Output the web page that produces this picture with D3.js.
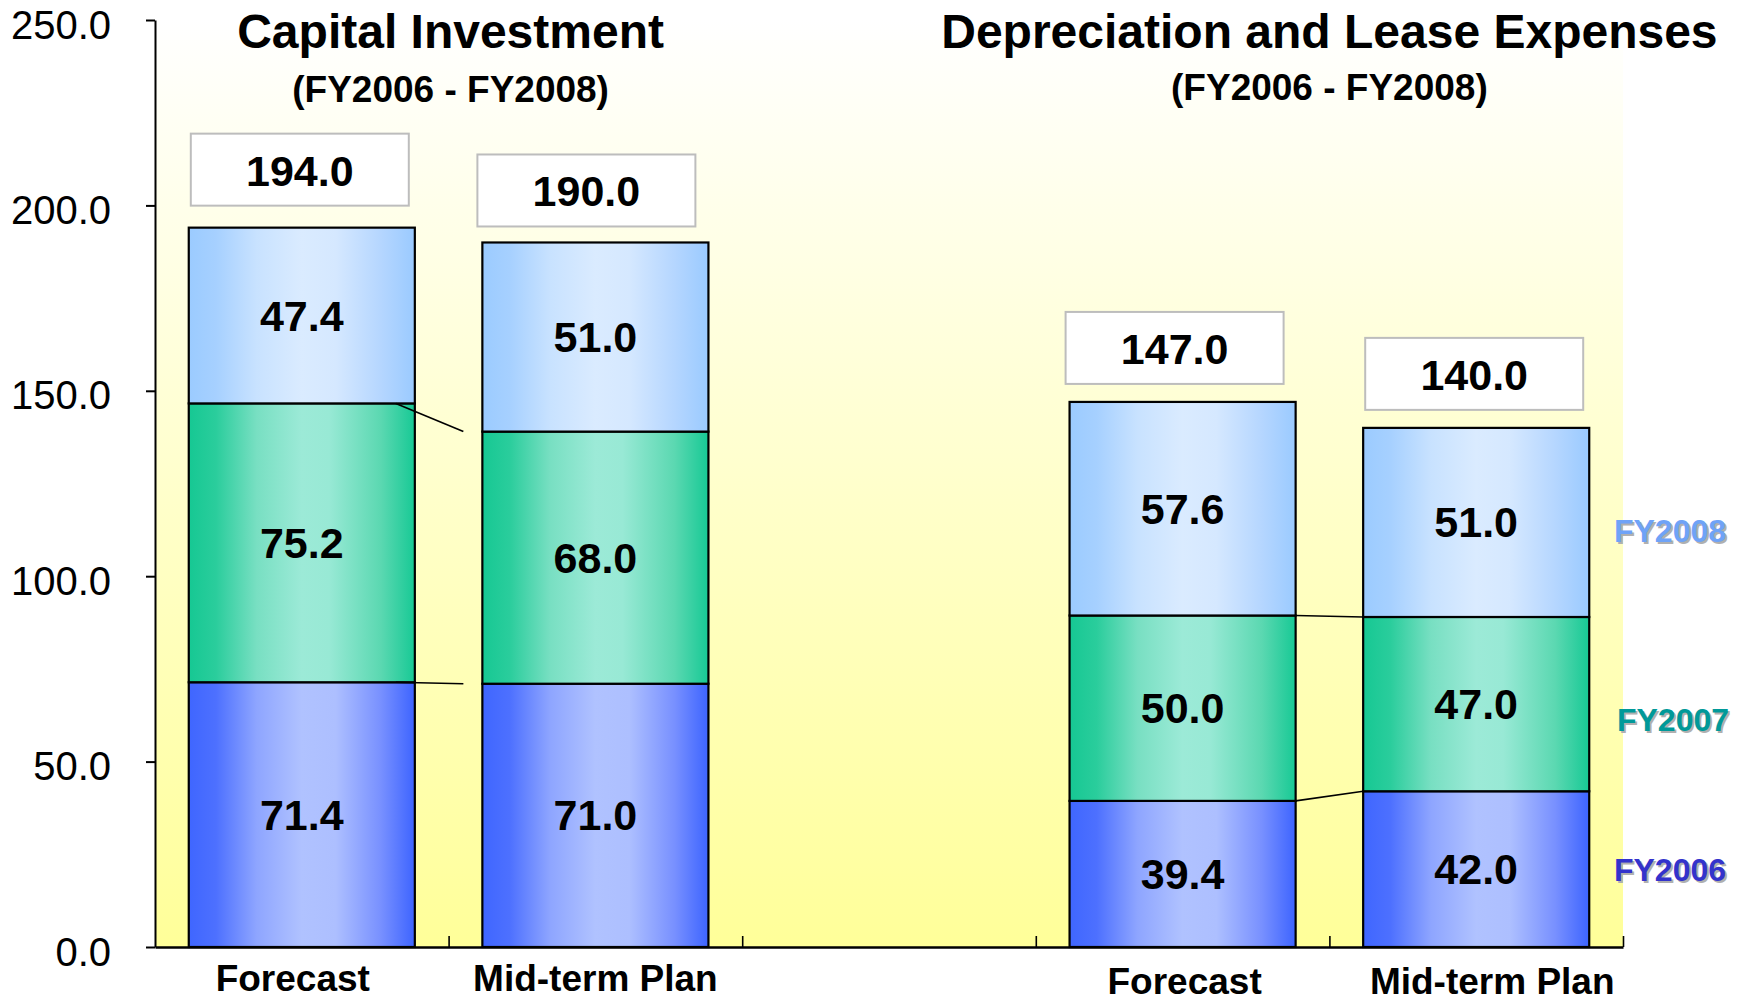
<!DOCTYPE html>
<html>
<head>
<meta charset="utf-8">
<script src="https://cdn.jsdelivr.net/npm/d3@7"></script>
<style>
  body { margin: 0; background: #fff; }
  text { font-family: "Liberation Sans", Arial, sans-serif; }
</style>
</head>
<body>
<div id="chart"></div>
<script>
// Data
const bandKeys = ['ciForecast', 'ciPlan', 'gap', 'dlForecast', 'dlPlan'];
const xLabels = ['Forecast', 'Mid-term Plan', '', 'Forecast', 'Mid-term Plan'];
const seriesNames = ['FY2006', 'FY2007', 'FY2008'];
const fy2006 = [71.4, 71.0, null, 39.4, 42.0];
const fy2007 = [75.2, 68.0, null, 50.0, 47.0];
const fy2008 = [47.4, 51.0, null, 57.6, 51.0];
const totals = [194.0, 190.0, null, 147.0, 140.0];
const yTicks = [0, 50, 100, 150, 200, 250];
const titles = ['Capital Investment', 'Depreciation and Lease Expenses'];
const subTitles = ['(FY2006 - FY2008)', '(FY2006 - FY2008)'];
// connectors between neighbouring bars
const connectorPairs = [[0, 1], [3, 4]];

// hand placed bits of the original slide (pixel nudges)
const boxNudge = [[0, -4], [-7, 2], null, [-6, 0], [0, 0]];
const labelNudge = [[-9, 0], [0, 0], null, [2, 3], [16, 3]];
const legendNudge = {FY2006: [0, 0], FY2007: [3, 15], FY2008: [0, 8]};

const element = document.getElementById('chart');

const margin = {top: 20, right: 117, bottom: 54, left: 155},
    width = 1740 - margin.left - margin.right,
    height = 1001 - margin.top - margin.bottom;

const root = d3.select(element)
    .append('svg')
    .attr('width', 1740)
    .attr('height', 1001);

root.append('rect').attr('width', 1740).attr('height', 1001).attr('fill', '#fff');

const defs = root.append('defs');

// plot background, white to pale yellow
const bg = defs.append('linearGradient')
    .attr('id', 'bg').attr('x1', 0).attr('y1', 0).attr('x2', 0).attr('y2', 1);
bg.append('stop').attr('offset', 0).attr('stop-color', '#FFFFFF');
bg.append('stop').attr('offset', 1).attr('stop-color', '#FFFF99');

const gradStops = {
    FY2006: [[0, '#3F66FF'], [0.12, '#4D70FF'], [0.3, '#8EA5FF'], [0.5, '#B0C2FF'], [0.65, '#ADBFFF'], [0.85, '#7890FF'], [1, '#3D64FF']],
    FY2007: [[0, '#16C893'], [0.12, '#2ACD9C'], [0.3, '#78DFC2'], [0.5, '#9CEAD7'], [0.62, '#98E9D5'], [0.85, '#5BD8B1'], [1, '#17C995']],
    FY2008: [[0, '#9BCBFF'], [0.12, '#A6D0FF'], [0.3, '#C8E2FF'], [0.5, '#DAEBFF'], [0.65, '#D5E8FF'], [0.85, '#B5D6FF'], [1, '#9ACAFF']]
};
seriesNames.forEach(name => {
    const g = defs.append('linearGradient')
        .attr('id', 'grad' + name).attr('x1', 0).attr('y1', 0).attr('x2', 1).attr('y2', 0);
    gradStops[name].forEach(s => g.append('stop').attr('offset', s[0]).attr('stop-color', s[1]));
});

const legendColors = {FY2006: '#3333CC', FY2007: '#009999', FY2008: '#6FA3F7'};

const svg = root.append('g')
    .attr('transform', `translate(${margin.left}, ${margin.top})`);

svg.append('rect')
    .attr('width', width)
    .attr('height', height)
    .attr('fill', 'url(#bg)');

// Scales
const xScale = d3.scaleBand()
    .domain(bandKeys)
    .range([0, width])
    .paddingInner(0.23)
    .paddingOuter(0.115);

const yScale = d3.scaleLinear()
    .domain([0, 250])
    .range([height, 0]);

// Stacking
const table = bandKeys.map((k, i) => ({
    key: k, FY2006: fy2006[i] || 0, FY2007: fy2007[i] || 0, FY2008: fy2008[i] || 0
}));
const stacked = d3.stack().keys(seriesNames)(table);

const layers = svg.selectAll('.layer')
    .data(stacked)
    .enter().append('g')
    .attr('class', 'layer');

layers.selectAll('rect')
    .data(d => d.map(p => ({p: p, name: d.key})).filter(e => e.p[1] > e.p[0]))
    .enter().append('rect')
    .attr('x', d => xScale(d.p.data.key))
    .attr('y', d => yScale(d.p[1]))
    .attr('width', xScale.bandwidth())
    .attr('height', d => yScale(d.p[0]) - yScale(d.p[1]))
    .attr('fill', d => 'url(#grad' + d.name + ')')
    .attr('stroke', '#000')
    .attr('stroke-width', 2.2);

layers.selectAll('text')
    .data(d => d.map(p => ({p: p, name: d.key})).filter(e => e.p[1] > e.p[0]))
    .enter().append('text')
    .attr('x', d => xScale(d.p.data.key) + xScale.bandwidth() / 2)
    .attr('y', d => (yScale(d.p[0]) + yScale(d.p[1])) / 2 + 15)
    .attr('text-anchor', 'middle')
    .attr('font-size', 43)
    .attr('font-weight', 'bold')
    .text(d => d3.format('.1f')(d.p[1] - d.p[0]));

// Connector lines between stacks
connectorPairs.forEach((pair, pi) => {
    const a = pair[0], b = pair[1];
    const inset = pi === 0 ? 19 : 0;
    [0, 1].forEach(level => {
        svg.append('line')
            .attr('x1', xScale(bandKeys[a]) + xScale.bandwidth() - inset)
            .attr('y1', yScale(stacked[level][a][1]))
            .attr('x2', xScale(bandKeys[b]) - inset)
            .attr('y2', yScale(stacked[level][b][1]))
            .attr('stroke', '#000')
            .attr('stroke-width', 1.6);
    });
});

// Total boxes
const totalData = bandKeys.map((k, i) => ({key: k, total: totals[i], nudge: boxNudge[i]}))
    .filter(d => d.total != null);
const boxW = 218, boxH = 72;
const boxes = svg.selectAll('.total')
    .data(totalData)
    .enter().append('g')
    .attr('class', 'total')
    .attr('transform', d => `translate(${xScale(d.key) + xScale.bandwidth() / 2 - 2 + d.nudge[0]}, ${yScale(d.total) - 18 - boxH / 2 + d.nudge[1]})`);
boxes.append('rect')
    .attr('x', -boxW / 2).attr('y', -boxH / 2)
    .attr('width', boxW).attr('height', boxH)
    .attr('fill', '#fff')
    .attr('stroke', '#BDBDBD')
    .attr('stroke-width', 2);
boxes.append('text')
    .attr('text-anchor', 'middle')
    .attr('y', 16)
    .attr('font-size', 43)
    .attr('font-weight', 'bold')
    .text(d => d3.format('.1f')(d.total));

// Y axis
const yAxis = svg.append('g')
    .call(d3.axisLeft(yScale)
        .tickValues(yTicks)
        .tickFormat(d3.format('.1f'))
        .tickSize(9)
        .tickSizeOuter(0)
        .tickPadding(35));
yAxis.select('.domain').attr('stroke', '#000').attr('stroke-width', 2);
yAxis.selectAll('.tick line').attr('stroke', '#000').attr('stroke-width', 2);
yAxis.selectAll('.tick text')
    .attr('font-size', 40)
    .attr('dy', '0.45em')
    .attr('font-family', '"Liberation Sans", Arial, sans-serif')
    .attr('fill', '#000');

// X axis: band boundaries as inward ticks
const boundary = d3.scaleLinear().domain([0, bandKeys.length]).range([0, width]);
const xAxis = svg.append('g')
    .attr('transform', `translate(0, ${height})`)
    .call(d3.axisBottom(boundary)
        .tickValues(d3.range(1, bandKeys.length + 1))
        .tickFormat('')
        .tickSize(-11)
        .tickSizeOuter(0));
xAxis.select('.domain').attr('stroke', '#000').attr('stroke-width', 2.6);
xAxis.selectAll('.tick line').attr('stroke', '#000').attr('stroke-width', 1.6);

// Category labels
svg.selectAll('.xlabel')
    .data(bandKeys.map((k, i) => ({key: k, label: xLabels[i], nudge: labelNudge[i]})).filter(d => d.label))
    .enter().append('text')
    .attr('class', 'xlabel')
    .attr('x', d => xScale(d.key) + xScale.bandwidth() / 2 + d.nudge[0])
    .attr('y', d => height + 44 + d.nudge[1])
    .attr('text-anchor', 'middle')
    .attr('font-size', 37)
    .attr('font-weight', 'bold')
    .text(d => d.label);

// Titles
const titleCenters = [
    (xScale(bandKeys[0]) + xScale(bandKeys[1]) + xScale.bandwidth()) / 2 + 2,
    (xScale(bandKeys[3]) + xScale(bandKeys[4]) + xScale.bandwidth()) / 2
];
titles.forEach((t, i) => {
    svg.append('text')
        .attr('x', titleCenters[i])
        .attr('y', 28)
        .attr('text-anchor', 'middle')
        .attr('font-size', 48)
        .attr('font-weight', 'bold')
        .text(t);
    svg.append('text')
        .attr('x', titleCenters[i])
        .attr('y', i === 0 ? 82 : 80)
        .attr('text-anchor', 'middle')
        .attr('font-size', 37)
        .attr('font-weight', 'bold')
        .text(subTitles[i]);
});

// Series labels to the right of the last bar
const last = bandKeys.length - 1;
const legend = svg.selectAll('.legend')
    .data(stacked)
    .enter().append('g')
    .attr('class', 'legend')
    .attr('transform', d => `translate(${width + 47 + legendNudge[d.key][0]}, ${(yScale(d[last][0]) + yScale(d[last][1])) / 2 + 12 + legendNudge[d.key][1]})`);
legend.append('text')
    .attr('x', 2).attr('y', 2)
    .attr('text-anchor', 'middle')
    .attr('font-size', 32)
    .attr('font-weight', 'bold')
    .attr('fill', '#B0B0B0')
    .text(d => d.key);
legend.append('text')
    .attr('text-anchor', 'middle')
    .attr('font-size', 32)
    .attr('font-weight', 'bold')
    .attr('fill', d => legendColors[d.key])
    .text(d => d.key);
</script>
</body>
</html>
